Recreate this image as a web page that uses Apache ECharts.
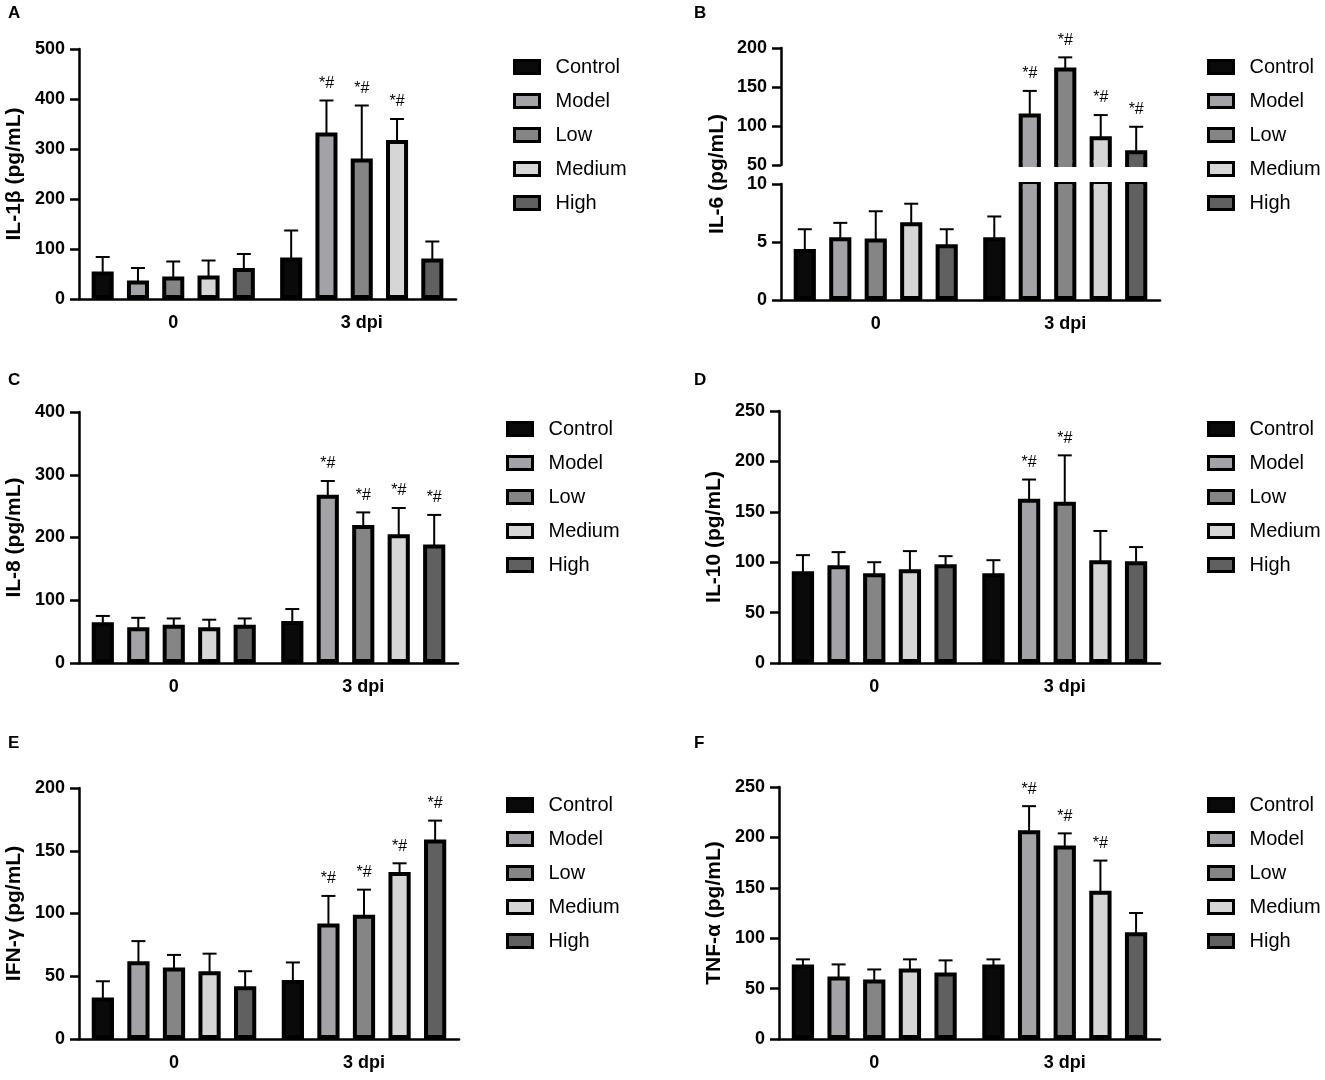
<!DOCTYPE html>
<html>
<head>
<meta charset="utf-8">
<title>Cytokines</title>
<script src="https://cdn.jsdelivr.net/npm/echarts@6/dist/echarts.min.js"></script>
<style>
  html, body { margin: 0; padding: 0; background: #fff; }
  #chart { width: 1325px; height: 1080px; }
</style>
</head>
<body>
<div id="chart"></div>
<script>
const groups = ['0', '3 dpi'];
const names = ['Control', 'Model', 'Low', 'Medium', 'High'];
const colors = ['#0a0a0a', '#a3a3a7', '#858585', '#d6d6d6', '#606060'];

// one pair [0, 3 dpi] per group, in the order of names
const il1bMean = [[55, 83], [37, 333], [45, 281], [47, 318], [62, 81]];
const il1bSd   = [[29, 54], [25, 64], [30, 106], [30, 42], [28, 34]];
const il1bSig  = [[0, 0], [0, 1], [0, 1], [0, 1], [0, 0]];

const il6Mean = [[4.4, 5.4], [5.4, 116], [5.3, 175], [6.7, 87], [4.8, 69]];
const il6Sd   = [[1.7, 1.8], [1.25, 29], [2.35, 13], [1.6, 27], [1.3, 30]];
const il6Sig  = [[0, 0], [0, 1], [0, 1], [0, 1], [0, 1]];

const il8Mean = [[65, 67], [57, 268], [61, 220], [57, 205], [61, 189]];
const il8Sd   = [[10, 19], [15, 22], [10, 20], [12, 42], [10, 47]];
const il8Sig  = [[0, 0], [0, 1], [0, 1], [0, 1], [0, 1]];

const il10Mean = [[91, 89], [97, 163], [89, 160], [93, 102], [98, 101]];
const il10Sd   = [[16, 13], [13, 19], [11, 46], [18, 29], [8, 14]];
const il10Sig  = [[0, 0], [0, 1], [0, 1], [0, 0], [0, 0]];

const ifngMean = [[33, 47], [62, 92], [57, 99], [54, 133], [42, 159]];
const ifngSd   = [[13, 14], [16, 22], [10, 20], [14, 7], [12, 15]];
const ifngSig  = [[0, 0], [0, 1], [0, 1], [0, 1], [0, 1]];

const tnfMean = [[74, 74], [62, 207], [59, 192], [70, 147], [66, 106]];
const tnfSd   = [[5, 5], [12, 24], [10, 12], [9, 30], [12, 19]];
const tnfSig  = [[0, 0], [0, 1], [0, 1], [0, 1], [0, 0]];

// y axis ranges [min, max, interval]
const il1bAxis = [0, 500, 100];
const il6LowAxis = [0, 10, 5];
const il6HighAxis = [50, 200, 50];
const il8Axis = [0, 400, 100];
const il10Axis = [0, 250, 50];
const ifngAxis = [0, 200, 50];
const tnfAxis = [0, 250, 50];

const FONT = '"Liberation Sans", Arial, sans-serif';
const BAR_W = 0.117;        // share of the category band
const GAP = 0.6;            // barGap
const PITCH = BAR_W * (1 + GAP);
const BORDER = 4;

const panels = [
  { letter: 'A', at: [8, 5], title: 'IL-1β (pg/mL)', mean: il1bMean, sd: il1bSd, sig: il1bSig,
    legend: [513, 57], segs: [{ rect: [79, 49, 377, 250], axis: il1bAxis }] },
  { letter: 'B', at: [694, 5], title: 'IL-6 (pg/mL)', titleAt: [717, 174], mean: il6Mean, sd: il6Sd, sig: il6Sig,
    legend: [1207, 57], segs: [
      { rect: [781, 184, 379, 116], axis: il6LowAxis, noName: true },
      { rect: [781, 48, 379, 117], axis: il6HighAxis, noName: true, hideX: true }] },
  { letter: 'C', at: [8, 372], title: 'IL-8 (pg/mL)', mean: il8Mean, sd: il8Sd, sig: il8Sig,
    legend: [506, 419], segs: [{ rect: [79, 412, 379, 251], axis: il8Axis }] },
  { letter: 'D', at: [694, 372], title: 'IL-10 (pg/mL)', mean: il10Mean, sd: il10Sd, sig: il10Sig,
    legend: [1207, 419], segs: [{ rect: [779, 411, 381, 252], axis: il10Axis }] },
  { letter: 'E', at: [8, 735], title: 'IFN-γ (pg/mL)', mean: ifngMean, sd: ifngSd, sig: ifngSig,
    legend: [506, 795], segs: [{ rect: [79, 788, 380, 251], axis: ifngAxis }] },
  { letter: 'F', at: [694, 735], title: 'TNF-α (pg/mL)', mean: tnfMean, sd: tnfSd, sig: tnfSig,
    legend: [1207, 795], segs: [{ rect: [779, 787, 381, 252], axis: tnfAxis }] }
];

function errItem(params, api, axisMin, axisMax) {
  const cs = params.coordSys;
  const cat = api.value(0), mean = api.value(1), sd = api.value(2), sig = api.value(3), k = api.value(4);
  const band = api.size([1, 0])[0];
  const bw = band * BAR_W;
  const base = api.coord([cat, mean]);
  const top = api.coord([cat, mean + sd]);
  const bottom = cs.y + cs.height;
  const x = base[0] + (k - 2) * band * PITCH;
  const kids = [];
  const cover = (y, h) => ({ type: 'rect', shape: { x: x - bw / 2 + BORDER, y: y, width: bw - 2 * BORDER, height: h },
    style: { fill: colors[k] } });
  // broken axis: leave the bar ends open at the break
  if (mean > axisMax) kids.push(cover(cs.y, BORDER + 0.5));
  if (axisMin > 0 && mean > axisMin) kids.push(cover(bottom - BORDER - 1, BORDER + 3));
  // the error bar belongs to the segment that holds the bar's top
  if (mean >= axisMin && mean + sd <= axisMax) {
    kids.push(
      { type: 'line', shape: { x1: x, y1: base[1] + 2, x2: x, y2: top[1] }, style: { stroke: '#000', lineWidth: 2 } },
      { type: 'line', shape: { x1: x - 7, y1: top[1], x2: x + 7, y2: top[1] }, style: { stroke: '#000', lineWidth: 2 } }
    );
    if (sig) {
      kids.push({ type: 'text', style: { text: '*#', x: x, y: top[1] - 9, align: 'center', verticalAlign: 'bottom',
        fontSize: 16, fontFamily: FONT, fill: '#000' } });
    }
  }
  return { type: 'group', children: kids };
}

const lineStyle = { color: '#000', width: 2.5 };
const grid = [], xAxis = [], yAxis = [], series = [], legend = [], graphic = [];

panels.forEach(p => {
  graphic.push({ type: 'text', left: p.at[0], top: p.at[1],
    style: { text: p.letter, fontSize: 17, fontWeight: 'bold', fontFamily: FONT, fill: '#000' } });
  if (p.titleAt) {
    graphic.push({ type: 'text', x: p.titleAt[0], y: p.titleAt[1], rotation: Math.PI / 2,
      style: { text: p.title, fontSize: 21, fontWeight: 'bold', fontFamily: FONT, fill: '#000',
        align: 'center', verticalAlign: 'middle' } });
  }
  legend.push({
    data: names, orient: 'vertical', left: p.legend[0], top: p.legend[1], padding: 0,
    icon: 'rect', itemWidth: 25, itemHeight: 13, itemGap: 14,
    itemStyle: { borderColor: '#000', borderWidth: 3 },
    textStyle: { fontSize: 20, lineHeight: 20, color: '#000', fontFamily: FONT, padding: [0, 0, 0, 11] },
    selectedMode: false
  });
  p.segs.forEach(s => {
    const gi = grid.length;
    grid.push({ left: s.rect[0], top: s.rect[1], width: s.rect[2], height: s.rect[3] });
    xAxis.push({
      type: 'category', gridIndex: gi, data: groups, show: !s.hideX,
      axisLine: { lineStyle },
      axisTick: { alignWithLabel: true, length: 7, lineStyle },
      axisLabel: { color: '#000', fontSize: 18, fontWeight: 'bold', fontFamily: FONT, margin: 15 }
    });
    yAxis.push({
      type: 'value', gridIndex: gi, min: s.axis[0], max: s.axis[1], interval: s.axis[2],
      name: s.noName ? '' : p.title, nameLocation: 'middle', nameGap: 54,
      nameTextStyle: { color: '#000', fontSize: 21, fontWeight: 'bold', fontFamily: FONT },
      splitLine: { show: false },
      axisLine: { show: true, lineStyle },
      axisTick: { show: true, length: 9, lineStyle },
      axisLabel: { color: '#000', fontSize: 18, fontWeight: 'bold', fontFamily: FONT, margin: 14 }
    });
    names.forEach((n, k) => {
      series.push({
        type: 'bar', name: n, xAxisIndex: gi, yAxisIndex: gi,
        barWidth: (BAR_W * 100) + '%', barGap: (GAP * 100) + '%',
        data: p.mean[k].map(v => (v > s.axis[0] ? v : '-')),
        itemStyle: { color: colors[k], borderColor: '#000', borderWidth: BORDER }
      });
    });
    const rows = [];
    names.forEach((n, k) => groups.forEach((g, c) => rows.push([c, p.mean[k][c], p.sd[k][c], p.sig[k][c], k])));
    series.push({
      type: 'custom', name: 'sd', xAxisIndex: gi, yAxisIndex: gi, z: 3,
      renderItem: (params, api) => errItem(params, api, s.axis[0], s.axis[1]),
      data: rows, encode: { x: 0, y: 1 }
    });
  });
});

const chart = echarts.init(document.getElementById('chart'));
chart.setOption({
  animation: false,
  backgroundColor: '#fff',
  grid, xAxis, yAxis, series, legend, graphic
});
</script>
</body>
</html>
